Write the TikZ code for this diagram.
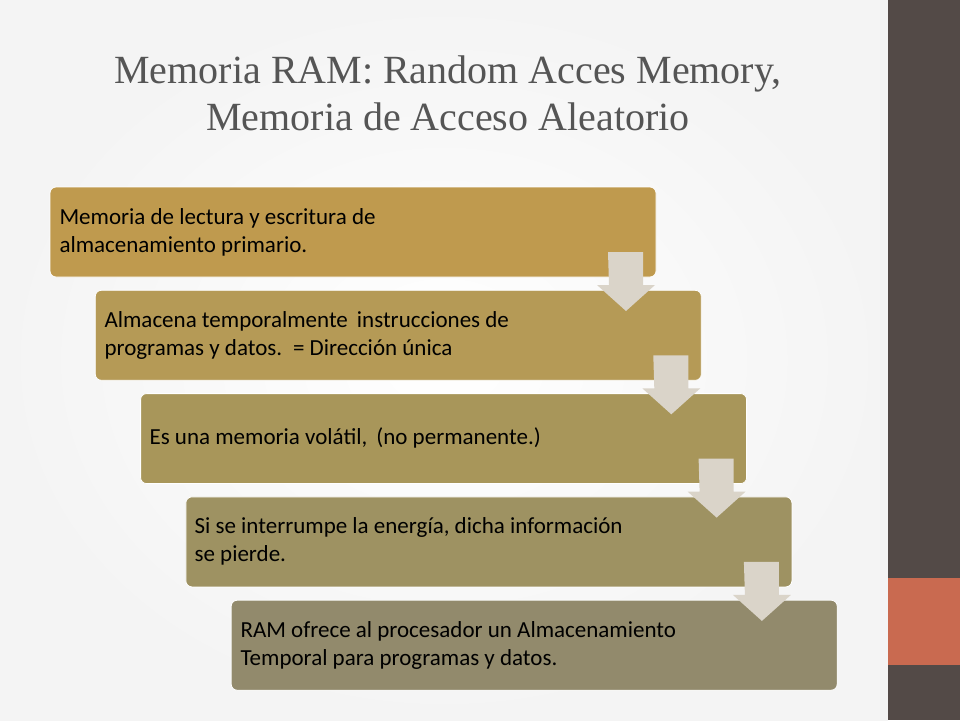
\documentclass[tikz,border=0pt]{standalone}
\usepackage{fontspec}
\setmainfont{Liberation Serif}
\newfontfamily\bodyfont{Carlito}
\definecolor{bgc}{HTML}{F4F4F4}
\definecolor{barc}{HTML}{534A47}
\definecolor{orc}{HTML}{C96A50}
\definecolor{titc}{HTML}{555555}
\definecolor{b1}{HTML}{BF9A4E}
\definecolor{b2}{HTML}{B59A56}
\definecolor{b3}{HTML}{A8965A}
\definecolor{b4}{HTML}{9E9262}
\definecolor{b5}{HTML}{928A6C}
\definecolor{arc}{HTML}{DAD4C9}
\begin{document}
\begin{tikzpicture}[x=1pt,y=-1pt,
  box/.style={rounded corners=6pt,draw=white,line width=0.8pt},
  txt/.style={font=\bodyfont\fontsize{23}{28}\selectfont,text=black,anchor=west,align=left},
  darrow/.style={fill=arc}]
\useasboundingbox (0,0) rectangle (960,720);
\shade[inner color=white,outer color=bgc] (0,0) rectangle (888,720);
\fill[barc] (888,0) rectangle (960,720);
\fill[orc] (888,578) rectangle (960,665);
\node[font=\fontsize{40}{47}\selectfont,text=titc,align=center] (title) at (448,93)
  {Memoria RAM: Random Acces Memory,\\Memoria de Acceso Aleatorio};
\foreach \i/\c in {0/b1,1/b2,2/b3,3/b4,4/b5}{
  \path[box,fill=\c] (50+45.3*\i,187+103.3*\i) rectangle ++(606,90);
}
\foreach \i in {0,1,2,3}{
  \fill[darrow] (608+45.3*\i,252+103.3*\i) -- ++(35,0) -- ++(0,33) -- ++(12,0) -- ++(-29,26) -- ++(-29,-26) -- ++(12,0) -- cycle;
}
\node[txt] (t1) at (56,232) {Memoria de lectura y escritura de\\almacenamiento primario.};
\node[txt] (t2) at (101,335) {Almacena temporalmente\, instrucciones de\\programas y datos.\, = Dirección única};
\node[txt] (t3) at (146,438) {Es una memoria volátil,\, (no permanente.)};
\node[txt] (t4) at (191,541) {Si se interrumpe la energía, dicha información\\se pierde.};
\node[txt] (t5) at (237,645) {RAM ofrece al procesador un Almacenamiento\\Temporal para programas y datos.};
\end{tikzpicture}
\end{document}
